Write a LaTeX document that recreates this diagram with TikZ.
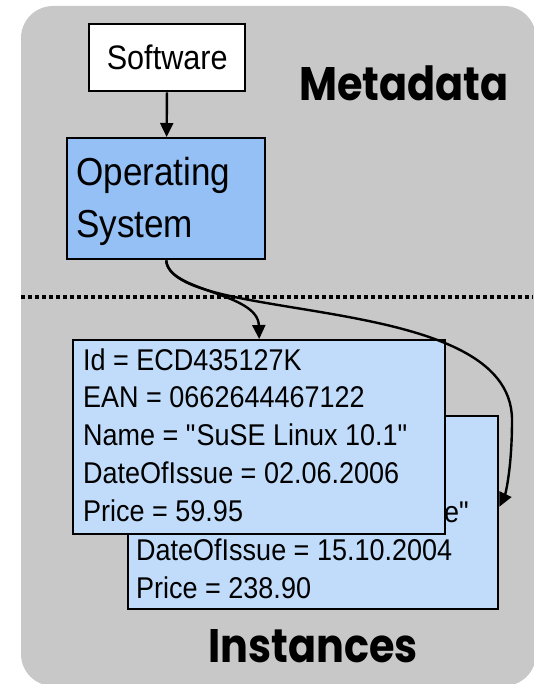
\documentclass[tikz,border=0pt]{standalone}
\usepackage{fontspec}
\setmainfont{Liberation Sans}[FakeStretch=0.9]
\newfontfamily\headfont{Poppins}[FakeStretch=0.88]
\usetikzlibrary{arrows.meta}
\definecolor{panelgray}{RGB}{200,200,200}
\definecolor{osblue}{RGB}{148,192,246}
\definecolor{instblue}{RGB}{192,220,250}
\tikzset{
  box/.style={draw,line width=2.4pt,anchor=north west},
  attr/.style={anchor=base west,inner sep=0pt,font=\fontsize{30}{38}\selectfont},
  big/.style={anchor=base west,inner sep=0pt,font=\fontsize{39}{52}\selectfont},
  head/.style={anchor=base west,inner sep=0pt,font=\headfont\bfseries\fontsize{47}{56}\selectfont},
}
\begin{document}
\begin{tikzpicture}[x=1pt,y=-1pt,>={Triangle[length=14pt,width=13pt]},line width=2.4pt]
\useasboundingbox (0,0) rectangle (533,684);
\fill[panelgray,rounded corners=32pt] (21,6) rectangle (536,686);

% metadata part
\node[box,fill=white,minimum width=156pt,minimum height=67pt,
  font=\fontsize{34}{40}\selectfont] (sw) at (88,23) {Software};
\node[box,fill=osblue,minimum width=198pt,minimum height=121pt] (os) at (66,137) {};
\node[big] (os1) at (75,186) {Operating};
\node[big] (os2) at (75,238) {System};
\draw[->](sw)--(os);
\node[head] (meta) at (298,101) {Metadata};

\draw[line width=3.5pt,dash pattern=on 3.5pt off 3.5pt] (21,297)--(533,297);

% instances part
\node[box,fill=instblue,minimum width=370pt,minimum height=193pt] (inst2) at (127,415) {};
\node[attr,anchor=base east] (b1) at (471,522) {e\textquotedbl};
\node[attr] (b2) at (135,560) {DateOfIssue = 15.10.2004};
\node[attr] (b3) at (135,598) {Price = 238.90};

\node[box,fill=instblue,minimum width=372pt,minimum height=194pt] (inst1) at (72,339) {};
\foreach \txt [count=\i] in {Id = ECD435127K, EAN = 0662644467122,
  Name = \textquotedbl SuSE Linux 10.1\textquotedbl, DateOfIssue = 02.06.2006, Price = 59.95}
  \node[attr] (a\i) at (82,332.2+37.8*\i) {\txt};

\node[head] (inst) at (207,662) {Instances};

\draw[->](os.south) .. controls (168,292) and (258,292) .. (inst1.north);
\draw[->](os.south) .. controls (172,325) and (512,290) .. (512,420)
  .. controls (512,470) and (505,495) .. ([yshift=6pt]inst2.east);
\end{tikzpicture}
\end{document}
